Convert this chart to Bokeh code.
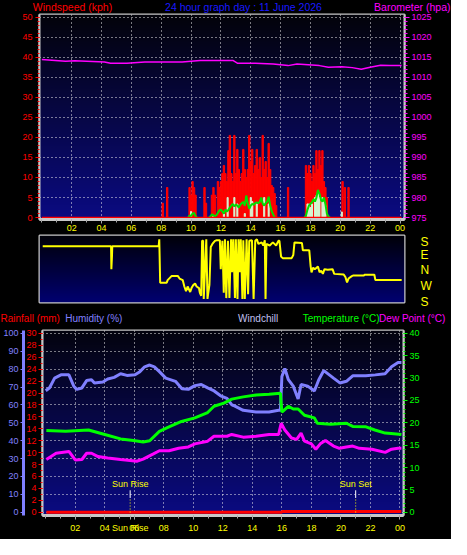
import numpy as np
from bokeh.plotting import figure
from bokeh.models import (Range1d, LinearAxis, FixedTicker, SingleIntervalTicker,
                          Grid, ColumnDataSource)
from bokeh.layouts import column
from bokeh.embed import file_html
from bokeh.resources import INLINE

nan = float("nan")

# ------------------------------------------------------------------ data
hour_ticks = [2, 4, 6, 8, 10, 12, 14, 16, 18, 20, 22, 24]
hour_tick_labels = ["02", "04", "06", "08", "10", "12", "14", "16", "18", "20", "22", "00"]
hour_minor = [0, 1, 2, 3, 4, 5, 6, 7, 8, 9, 10, 11, 12, 13, 14, 15, 16, 17, 18, 19,
              20, 21, 22, 23, 24]

titles_top = ["Windspeed (kph)", "24 hour graph day : 11 June 2026", "Barometer (hpa)"]

# wind gusts (kph)
gust_hours = [8.1, 8.4,
              9.9, 10.0, 10.1, 10.2, 10.3,
              10.9, 11.0,
              11.4, 11.5, 11.6,
              11.8, 11.9, 12.0, 12.1, 12.2, 12.3, 12.4, 12.5, 12.6, 12.7, 12.8, 12.9,
              13.0, 13.1, 13.2, 13.3, 13.4, 13.5, 13.6, 13.7, 13.8, 13.9,
              14.0, 14.1, 14.2, 14.3, 14.4, 14.5, 14.6, 14.7, 14.8, 14.9,
              15.0, 15.1, 15.2, 15.3, 15.4, 15.5, 15.6, 15.7,
              16.5,
              17.7, 17.8, 17.9, 18.0, 18.1, 18.2, 18.3, 18.4, 18.5, 18.6, 18.7, 18.8, 18.9, 19.0, 19.1,
              20.15, 20.3, 20.55]
gust_kph = [3.6, 7.5,
            7.5, 5.6, 9.0, 7.5, 5.6,
            7.5, 3.6,
            5.6, 7.5, 5.6,
            9.0, 7.5, 9.0, 11.0, 13.0, 11.0, 9.0, 16.7, 20.5, 11.0, 9.0, 20.5,
            11.0, 17.0, 12.0, 9.0, 11.0, 17.0, 12.0, 10.0, 12.0, 20.5,
            14.0, 17.0, 11.0, 13.0, 17.0, 12.0, 15.0, 10.0, 20.5, 12.0,
            14.0, 10.0, 18.5, 12.0, 8.0, 7.5, 6.0, 3.0,
            7.5,
            13.0, 11.0, 13.0, 11.0, 9.0, 13.0, 11.0, 16.7, 12.0, 16.7, 13.0, 16.7, 9.0, 7.5, 5.0,
            9.0, 7.5, 7.5]
calm_hours = [0.0, 24.1]
calm_kph = [0.0, 0.0]

# wind speed (kph)
speed_hours = [10.0, 11.5, 12.2, 12.45, 12.9, 13.1, 13.6, 14.0, 14.1, 14.4, 14.9, 15.2,
               17.8, 17.9, 18.0, 18.1, 18.3, 18.4, 18.5, 18.6, 18.8, 18.9, 19.0, 20.1]
speed_kph = [1.5, 0.4, 1.5, 5.0, 5.0, 3.4, 1.0, 5.0, 4.0, 3.4, 5.0, 3.4,
             3.4, 3.4, 2.5, 3.4, 5.0, 5.5, 6.5, 5.0, 5.0, 4.0, 3.0, 1.4]

# average wind (kph), nan = no line
avg_hours = [9.8, 9.9, 10.0, 10.1, 10.2, 10.3, 10.4, nan,
             11.2, 11.3, 11.4, 11.5, 11.6, 11.7, 11.8, 11.9,
             12.0, 12.1, 12.2, 12.3, 12.4, 12.5, 12.6, 12.7, 12.8, 12.9,
             13.0, 13.1, 13.2, 13.3, 13.4, 13.5, 13.6, 13.7, 13.8, 13.9,
             14.0, 14.1, 14.2, 14.3, 14.4, 14.5, 14.6, 14.7, 14.8, 14.9,
             15.0, 15.1, 15.2, 15.3, 15.4, 15.5, 15.6, nan,
             17.6, 17.7, 17.8, 17.9, 18.0, 18.1, 18.2, 18.3, 18.4, 18.5,
             18.6, 18.7, 18.8, 18.9, 19.0, 19.1, 19.2, 19.3]
avg_kph = [0.0, 0.5, 0.4, 1.0, 1.2, 0.3, 0.0, nan,
           0.0, 0.3, 0.8, 0.6, 0.2, 0.6, 1.2, 1.8,
           2.0, 1.5, 1.0, 2.0, 1.5, 1.9, 2.5, 3.0, 3.4, 2.8,
           3.2, 3.0, 2.5, 3.2, 3.6, 3.9, 3.0, 5.5, 3.5, 2.2,
           3.0, 3.4, 3.2, 3.6, 3.8, 3.6, 3.9, 5.0, 3.5, 3.0,
           3.6, 4.0, 5.2, 3.0, 1.6, 0.8, 0.0, nan,
           0.0, 0.5, 2.0, 3.0, 3.4, 3.8, 4.6, 4.0, 5.0, 6.9,
           6.0, 4.5, 4.0, 5.0, 3.4, 1.0, 0.3, 0.0]

# barometer (hPa)
baro_hours = [0.0, 0.9, 1.6, 2.2, 3.0, 4.2, 4.6, 5.7, 6.9, 9.4, 10.6, 12.8, 13.1,
              14.3, 15.5, 16.5, 17.1, 18.6, 19.2, 20.1, 20.8, 21.4, 22.0, 22.7, 23.3, 24.1]
baro_hpa = [1014.4, 1014.2, 1014.0, 1014.1, 1014.0, 1013.8, 1013.5, 1013.5, 1013.8,
            1013.8, 1014.2, 1014.2, 1013.5, 1013.5, 1013.3, 1012.9, 1013.3, 1012.9,
            1012.5, 1012.6, 1012.4, 1012.0, 1012.5, 1013.0, 1012.9, 1012.9]

# wind direction (scale position: 0 = S, 90 = W, 180 = N, 270 = E, 360 = S)
dir_ticks = [0, 90, 180, 270, 360]
dir_tick_labels = ["S", "W", "N", "E", "S"]
dir_hours = [0.06, 4.64, 4.66, 4.70, 4.72, 7.83, 7.87, 7.93, 8.37, 8.43,
             8.69, 9.12, 9.23, 9.44, 9.55, 9.66, 9.77, 9.94, 10.03, 10.15,
             10.27, 10.37, 10.53, 10.59, 10.68, 10.74, 10.81, 10.85, 11.02, 11.10,
             11.23, 11.32, 11.43, 11.60, 11.71, 11.93, 11.99, 12.10, 12.19, 12.27,
             12.36, 12.47, 12.57, 12.68, 12.75, 12.83, 12.94, 13.00, 13.11, 13.18,
             13.27, 13.33, 13.44, 13.50, 13.60, 13.72, 13.82, 13.90, 14.08, 14.19,
             14.30, 14.41, 14.51, 14.73, 14.84, 14.94, 14.99, 15.05, 15.27, 15.48,
             15.70, 15.85, 15.92, 16.03, 16.14, 16.74, 16.85, 16.93, 17.43, 17.49,
             17.92, 18.01, 18.07, 18.18, 18.29, 18.50, 18.61, 18.72, 18.83, 18.94,
             19.16, 19.48, 19.59, 20.23, 20.34, 20.45, 20.55, 20.77, 20.88, 21.59,
             21.63, 22.28, 22.35, 24.11]
dir_values = [320, 320, 187, 260, 320, 320, 360, 109, 109, 124,
              147, 147, 133, 124, 87, 60, 87, 55, 78, 96,
              105, 87, 78, 51, 33, 351, 351, 15, 360, 15,
              96, 315, 333, 351, 354, 354, 187, 351, 51, 360,
              20, 351, 20, 360, 169, 360, 20, 360, 15, 360,
              169, 360, 15, 354, 15, 360, 42, 351, 354, 15,
              351, 360, 333, 342, 324, 354, 15, 333, 324, 342,
              324, 351, 351, 260, 251, 251, 269, 342, 338, 296,
              296, 205, 169, 196, 187, 202, 169, 178, 160, 187,
              184, 187, 160, 156, 142, 111, 133, 147, 151, 151,
              155, 155, 124, 124]

# bottom chart
titles_bottom = ["Rainfall (mm)", "Humidity (%)", "Windchill", "Temperature (\u00b0C)",
                 "Dew Point (\u00b0C)"]

hum_hours = [0.0, 0.26, 0.6, 1.03, 1.57, 1.9, 2.1, 2.45, 2.77, 3.1, 3.3, 3.87, 4.2, 4.64,
             5.07, 5.5, 6.05, 6.38, 6.7, 7.04, 7.36, 7.7, 8.13, 8.79, 9.23, 9.66, 10.1,
             10.54, 10.97, 11.41, 11.85, 12.28, 12.61, 12.72, 13.38, 14.25, 15.13, 15.78,
             15.9, 16.0, 16.2, 16.44, 16.77, 17.1, 17.3, 17.75, 18.2, 18.5, 18.84, 19.5,
             19.93, 20.37, 20.8, 21.68, 22.33, 22.99, 23.43, 23.87, 24.1]
hum_pct = [67.9, 69.6, 75.0, 76.8, 76.8, 70.5, 68.7, 69.5, 73.6, 74.1, 72.3, 72.8, 74.5,
           75.4, 77.4, 76.5, 76.8, 78.6, 81.3, 82.3, 81.3, 78.6, 75.0, 73.2, 69.1, 68.7,
           70.8, 71.4, 69.5, 67.8, 65.1, 63.7, 60.0, 59.7, 57.0, 56.1, 56.1, 57.0, 57.0,
           75.9, 80.4, 74.1, 70.5, 63.3, 71.4, 70.5, 67.8, 74.1, 79.2, 75.0, 72.3, 73.2,
           76.3, 76.3, 76.8, 77.4, 81.3, 83.7, 83.7]

temp_hours = [0.04, 1.35, 2.9, 4.0, 5.07, 5.95, 6.6, 7.04, 7.7, 8.35, 9.2, 10.1, 10.97,
              11.4, 12.07, 12.6, 13.38, 14.25, 15.13, 15.9, 16.0, 16.44, 16.77, 17.1,
              17.53, 18.2, 18.4, 19.3, 20.37, 20.8, 21.7, 22.3, 23.0, 23.4, 24.1]
temp_c = [18.3, 18.1, 18.4, 17.4, 16.4, 16.05, 15.7, 16.0, 18.1, 19.1, 20.3, 21.1, 22.3,
          23.7, 24.4, 25.3, 25.8, 26.2, 26.4, 26.6, 22.4, 23.7, 23.1, 23.1, 21.7, 21.1,
          19.9, 19.7, 19.9, 19.2, 19.1, 18.4, 17.7, 17.6, 17.4]

dew_hours = [0.04, 0.7, 1.57, 2.0, 2.45, 2.77, 3.1, 3.54, 4.2, 5.07, 5.72, 6.16, 6.6,
             7.26, 7.7, 8.35, 9.0, 9.66, 10.1, 10.97, 11.4, 12.28, 12.6, 13.38, 14.25,
             15.13, 15.78, 15.95, 16.2, 16.65, 17.0, 17.3, 17.53, 18.0, 18.3, 18.6,
             18.95, 19.5, 19.9, 20.37, 20.8, 21.25, 22.1, 23.0, 23.43, 23.87, 24.1]
dew_c = [11.8, 13.2, 13.6, 11.7, 11.8, 13.2, 13.2, 12.45, 12.15, 11.8, 11.6, 11.4, 11.9,
         13.0, 13.75, 13.75, 14.3, 14.6, 15.3, 15.9, 17.0, 17.0, 17.4, 16.8, 17.0, 17.4,
         17.4, 19.9, 18.4, 16.6, 16.3, 17.7, 15.9, 15.3, 14.1, 15.3, 16.05, 14.8, 14.3,
         14.6, 14.8, 14.3, 14.1, 13.4, 14.1, 14.3, 14.3]

rain_hours = [0.04, 16.0, 16.0, 24.1]
rain_mm = [0.0, 0.0, 0.15, 0.15]

sun_times = [5.72, 21.0]
sun_labels = ["Sun Rise", "Sun Set"]

# ------------------------------------------------------------------ style
FONT = "Liberation Sans"
W = 451
GRID = "#f0f0f0"
FRAME = "#c8c8c8"
YELLOW = "#ffff00"


def gradient_image(top, bottom, n=200):
    frac = np.linspace(0.0, 1.0, n)[:, None]          # row 0 is the bottom
    img = np.empty((n, 1), dtype=np.uint32)
    v = img.view(dtype=np.uint8).reshape((n, 1, 4))
    for k in range(3):
        v[:, :, k] = np.round(bottom[k] + (top[k] - bottom[k]) * frac).astype(np.uint8)
    v[:, :, 3] = 255
    return img


def add_background(p, top, bottom):
    xr, yr = p.x_range, p.y_range
    p.image_rgba(image=[gradient_image(top, bottom)], x=xr.start, y=yr.start,
                 dw=xr.end - xr.start, dh=yr.end - yr.start, level="image")


def make_fig(height, xr, yr, left, right, top, bottom, outline=FRAME):
    p = figure(width=W, height=height, x_range=xr, y_range=yr,
               output_backend="svg", toolbar_location=None,
               min_border_left=left, min_border_right=right,
               min_border_top=top, min_border_bottom=bottom,
               background_fill_color="black", border_fill_color="black",
               outline_line_color=outline, outline_line_width=2,
               x_axis_location=None, y_axis_location=None, frame_align=False)
    p.center = [c for c in p.center if not isinstance(c, Grid)]
    return p


def style_axis(ax, color, line_color=FRAME, size="9px", tick_out=4, minor_out=2,
               standoff=2, line_width=2):
    ax.axis_line_color = line_color
    ax.axis_line_width = line_width
    ax.major_tick_line_color = color
    ax.minor_tick_line_color = color
    ax.major_tick_in = 0
    ax.minor_tick_in = 0
    ax.major_tick_out = tick_out
    ax.minor_tick_out = minor_out
    ax.major_label_text_color = color
    ax.major_label_text_font = FONT
    ax.major_label_text_font_size = size
    ax.major_label_standoff = standoff


def hour_axis(p, standoff, extra_ticks=(), extra_labels=()):
    ticks = hour_ticks + list(extra_ticks)
    labels = hour_tick_labels + list(extra_labels)
    ax = LinearAxis(ticker=FixedTicker(ticks=ticks, minor_ticks=hour_minor),
                    major_label_overrides=dict(zip(ticks, labels)))
    style_axis(ax, "#a8a8a8", tick_out=4, minor_out=3, standoff=standoff, line_width=3)
    ax.major_label_text_color = YELLOW
    p.add_layout(ax, "below")
    return ax


def add_grid(p, dim, ticker):
    p.add_layout(Grid(dimension=dim, ticker=ticker, grid_line_color=GRID,
                      grid_line_dash="1 3", grid_line_width=1))


def header(height, xs, ys, texts, colors, aligns, size):
    h = figure(width=W, height=height, x_range=Range1d(0, W), y_range=Range1d(0, height),
               output_backend="svg", toolbar_location=None,
               min_border=0, background_fill_color="black", border_fill_color="black",
               outline_line_color=None, x_axis_location=None, y_axis_location=None,
               frame_align=False)
    h.center = [c for c in h.center if not isinstance(c, Grid)]
    src = ColumnDataSource(dict(x=xs, y=ys, text=texts, color=colors, align=aligns))
    h.text(x="x", y="y", text="text", text_color="color", text_align="align",
           text_baseline="bottom", text_font={"value": FONT},
           text_font_size={"value": size}, source=src)
    return h


# ------------------------------------------------------------------ header of top chart
h1 = header(13, [72, 243, 450], [0.5, 0.5, 0.5], titles_top,
            ["#ff0000", "#1a1aff", "#ff00ff"], ["center", "center", "right"], "10.5px")

# ------------------------------------------------------------------ top: wind & pressure
p1 = make_fig(221, Range1d(-0.155, 24.3), Range1d(-0.48, 50.65), 39, 47, 1, 15)
p1.extra_y_ranges = {"baro": Range1d(974.52, 1025.65)}
add_background(p1, (3, 3, 10), (10, 10, 130))

hour_axis(p1, standoff=1)
ax_w = LinearAxis(ticker=SingleIntervalTicker(interval=5, num_minor_ticks=5))
style_axis(ax_w, "#ff0000", tick_out=4, minor_out=2, standoff=3)
p1.add_layout(ax_w, "left")
ax_b = LinearAxis(y_range_name="baro", ticker=SingleIntervalTicker(interval=5, num_minor_ticks=5))
style_axis(ax_b, "#ff00ff", tick_out=5, minor_out=3, standoff=2)
p1.add_layout(ax_b, "right")
add_grid(p1, 0, FixedTicker(ticks=hour_ticks))
add_grid(p1, 1, SingleIntervalTicker(interval=5))

p1.vbar(x=gust_hours, top=gust_kph, bottom=0, width=0.09, color="#ff0000")
p1.vbar(x=speed_hours, top=speed_kph, bottom=0, width=0.07, color="#d4f7d4")
p1.line(avg_hours, avg_kph, color="#00e000", line_width=2)
p1.line(calm_hours, calm_kph, color="#ff0000", line_width=1.5)
p1.line(baro_hours, baro_hpa, y_range_name="baro", color="#ff00ff", line_width=1.5)

# ------------------------------------------------------------------ middle: wind direction
p2 = make_fig(76, p1.x_range, Range1d(-5.45, 381.8), 39, 47, 1, 8)
add_background(p2, (0, 0, 8), (0, 0, 112))
ax_d = LinearAxis(ticker=FixedTicker(ticks=dir_ticks),
                  major_label_overrides=dict(zip(dir_ticks, dir_tick_labels)))
style_axis(ax_d, YELLOW, line_color=None, size="12px", tick_out=0, minor_out=0, standoff=16)
ax_d.major_tick_line_color = None
ax_d.minor_tick_line_color = None
p2.add_layout(ax_d, "right")
p2.line(dir_hours, dir_values, color=YELLOW, line_width=2)

# ------------------------------------------------------------------ header of bottom chart
h3 = header(19, [0, 64.7, 237.6, 302.3, 378.6], [6.0] * 5, titles_bottom,
            ["#ff0000", "#8080ff", "#c0c0f0", "#00ff00", "#ff00ff"], ["left"] * 5, "10px")

# ------------------------------------------------------------------ bottom: temperature etc.
p3 = make_fig(210, Range1d(-0.22, 24.24), Range1d(-1.8, 101.6), 41, 48, 1, 24)
p3.extra_y_ranges = {"rain": Range1d(-0.54, 30.48), "temp": Range1d(-0.72, 40.64)}
add_background(p3, (3, 3, 14), (10, 10, 130))

hour_axis(p3, standoff=3, extra_ticks=[sun_times[0]], extra_labels=[sun_labels[0]])
ax_r = LinearAxis(y_range_name="rain", ticker=SingleIntervalTicker(interval=2, num_minor_ticks=2))
style_axis(ax_r, "#ff0000", tick_out=4, minor_out=2, standoff=2)
p3.add_layout(ax_r, "left")
ax_h = LinearAxis(ticker=SingleIntervalTicker(interval=10, num_minor_ticks=0))
style_axis(ax_h, "#8080ff", line_color="#8080ff", tick_out=3, minor_out=0, standoff=2,
           line_width=3)
p3.add_layout(ax_h, "left")
ax_t = LinearAxis(y_range_name="temp", ticker=SingleIntervalTicker(interval=5, num_minor_ticks=5))
style_axis(ax_t, "#00ff00", tick_out=4, minor_out=2, standoff=2)
p3.add_layout(ax_t, "right")
add_grid(p3, 0, FixedTicker(ticks=hour_ticks))
add_grid(p3, 1, SingleIntervalTicker(interval=10))

p3.line(hum_hours, hum_pct, color="#8080ff", line_width=3)
p3.line(temp_hours, temp_c, y_range_name="temp", color="#00ff00", line_width=3)
p3.line(dew_hours, dew_c, y_range_name="temp", color="#ff00ff", line_width=3)
p3.line(rain_hours, rain_mm, y_range_name="rain", color="#ff0000", line_width=3)

p3.segment(x0=sun_times, x1=sun_times, y0=[8.0] * 2, y1=[12.3] * 2, color="white", line_width=1)
p3.segment(x0=sun_times, x1=sun_times, y0=[-1.8] * 2, y1=[8.0] * 2, color=YELLOW,
           line_width=1, line_dash="1 2")
sun_src = ColumnDataSource(dict(x=sun_times, y=[15.7] * 2, text=sun_labels))
p3.text(x="x", y="y", text="text", source=sun_src, text_color=YELLOW,
        text_align="center", text_baseline="middle", text_font={"value": FONT},
        text_font_size={"value": "9px"})

p = column(h1, p1, p2, h3, p3, spacing=0, background="black")
open("out.html", "w").write(file_html(p, INLINE))
